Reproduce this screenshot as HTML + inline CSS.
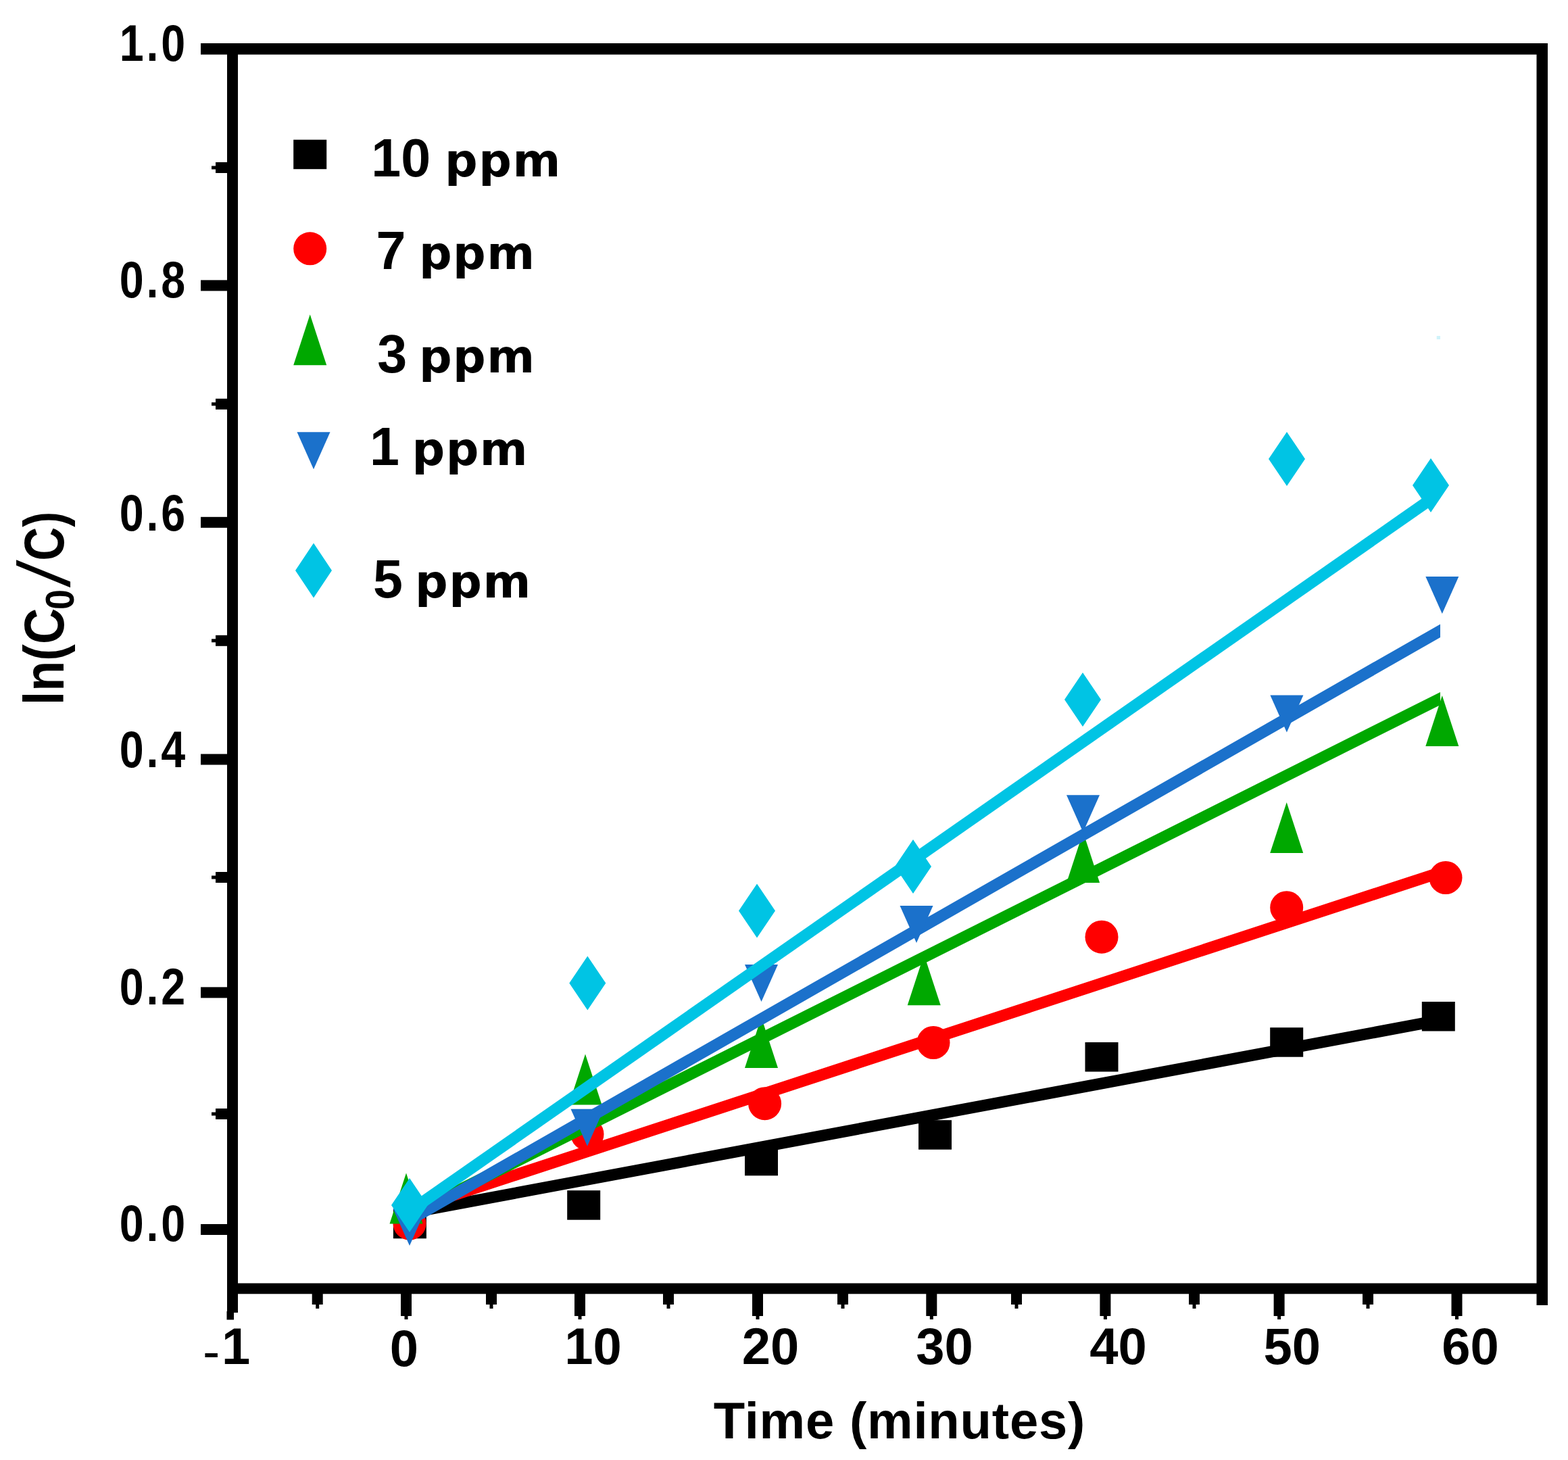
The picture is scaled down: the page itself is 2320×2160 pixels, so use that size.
<!DOCTYPE html>
<html><head><meta charset="utf-8"><style>
html,body{margin:0;padding:0;background:#fff;}
svg{display:block;}
</style></head><body>
<svg width="2320" height="2160" viewBox="0 0 2320 2160">
<rect width="2320" height="2160" fill="#fff"/>
<rect x="297.0" y="64.0" width="1993.0" height="16.7" fill="#000"/>
<rect x="336.0" y="64.0" width="16.0" height="1878.0" fill="#000"/>
<rect x="335.5" y="1940.0" width="10.5" height="12.5" fill="#000"/>
<rect x="2273.5" y="64.0" width="16.5" height="1867.0" fill="#000"/>
<rect x="336.0" y="1898.5" width="1954.0" height="15.8" fill="#000"/>
<rect x="297.0" y="1811.0" width="39.0" height="16.0" fill="#000"/>
<rect x="297.0" y="1460.4" width="39.0" height="16.0" fill="#000"/>
<rect x="297.0" y="1115.5" width="39.0" height="16.0" fill="#000"/>
<rect x="297.0" y="764.8" width="39.0" height="16.0" fill="#000"/>
<rect x="297.0" y="414.4" width="39.0" height="16.0" fill="#000"/>
<rect x="319.0" y="1640.0" width="17.0" height="16.0" fill="#000"/>
<rect x="319.0" y="1290.0" width="17.0" height="16.0" fill="#000"/>
<rect x="319.0" y="939.8" width="17.0" height="16.0" fill="#000"/>
<rect x="319.0" y="589.8" width="17.0" height="16.0" fill="#000"/>
<rect x="319.0" y="240.0" width="17.0" height="16.0" fill="#000"/>
<rect x="593.0" y="1914.0" width="16.0" height="33.0" fill="#000"/>
<rect x="850.0" y="1914.0" width="16.0" height="33.0" fill="#000"/>
<rect x="1113.0" y="1914.0" width="16.0" height="33.0" fill="#000"/>
<rect x="1370.3" y="1914.0" width="16.0" height="33.0" fill="#000"/>
<rect x="1627.4" y="1914.0" width="16.0" height="33.0" fill="#000"/>
<rect x="1884.6" y="1914.0" width="16.0" height="33.0" fill="#000"/>
<rect x="2147.5" y="1914.0" width="16.0" height="33.0" fill="#000"/>
<rect x="461.7" y="1914.0" width="16.0" height="16.0" fill="#000"/>
<rect x="467.2" y="1929.0" width="5.0" height="7.0" fill="#000"/>
<rect x="719.0" y="1914.0" width="16.0" height="16.0" fill="#000"/>
<rect x="724.5" y="1929.0" width="5.0" height="7.0" fill="#000"/>
<rect x="981.0" y="1914.0" width="16.0" height="16.0" fill="#000"/>
<rect x="986.5" y="1929.0" width="5.0" height="7.0" fill="#000"/>
<rect x="1239.0" y="1914.0" width="16.0" height="16.0" fill="#000"/>
<rect x="1244.5" y="1929.0" width="5.0" height="7.0" fill="#000"/>
<rect x="1496.0" y="1914.0" width="16.0" height="16.0" fill="#000"/>
<rect x="1501.5" y="1929.0" width="5.0" height="7.0" fill="#000"/>
<rect x="1759.0" y="1914.0" width="16.0" height="16.0" fill="#000"/>
<rect x="1764.5" y="1929.0" width="5.0" height="7.0" fill="#000"/>
<rect x="2016.0" y="1914.0" width="16.0" height="16.0" fill="#000"/>
<rect x="2021.5" y="1929.0" width="5.0" height="7.0" fill="#000"/>
<rect x="598.5" y="1946.0" width="5.0" height="6.0" fill="#000"/>
<rect x="855.5" y="1946.0" width="5.0" height="6.0" fill="#000"/>
<rect x="1118.5" y="1946.0" width="5.0" height="6.0" fill="#000"/>
<rect x="1375.8" y="1946.0" width="5.0" height="6.0" fill="#000"/>
<rect x="1632.9" y="1946.0" width="5.0" height="6.0" fill="#000"/>
<rect x="1890.1" y="1946.0" width="5.0" height="6.0" fill="#000"/>
<rect x="2153.0" y="1946.0" width="5.0" height="6.0" fill="#000"/>
<rect x="313.0" y="1645.5" width="7.0" height="5.0" fill="#000"/>
<rect x="313.0" y="1295.5" width="7.0" height="5.0" fill="#000"/>
<rect x="313.0" y="945.3" width="7.0" height="5.0" fill="#000"/>
<rect x="313.0" y="595.3" width="7.0" height="5.0" fill="#000"/>
<rect x="313.0" y="245.5" width="7.0" height="5.0" fill="#000"/>
<text transform="translate(278,90.2) scale(0.85,1)" x="0" y="0" font-size="76" text-anchor="end" letter-spacing="4.5" style="font-family:'Liberation Sans',Arial,sans-serif;font-weight:bold">1.0</text>
<text transform="translate(278,440.1) scale(0.85,1)" x="0" y="0" font-size="76" text-anchor="end" letter-spacing="4.5" style="font-family:'Liberation Sans',Arial,sans-serif;font-weight:bold">0.8</text>
<text transform="translate(278,785.2) scale(0.85,1)" x="0" y="0" font-size="76" text-anchor="end" letter-spacing="4.5" style="font-family:'Liberation Sans',Arial,sans-serif;font-weight:bold">0.6</text>
<text transform="translate(278,1135) scale(0.85,1)" x="0" y="0" font-size="76" text-anchor="end" letter-spacing="4.5" style="font-family:'Liberation Sans',Arial,sans-serif;font-weight:bold">0.4</text>
<text transform="translate(278,1486.4) scale(0.85,1)" x="0" y="0" font-size="76" text-anchor="end" letter-spacing="4.5" style="font-family:'Liberation Sans',Arial,sans-serif;font-weight:bold">0.2</text>
<text transform="translate(278,1835.8) scale(0.85,1)" x="0" y="0" font-size="76" text-anchor="end" letter-spacing="4.5" style="font-family:'Liberation Sans',Arial,sans-serif;font-weight:bold">0.0</text>
<text x="598" y="2021" font-size="76" text-anchor="middle" style="font-family:'Liberation Sans',Arial,sans-serif;font-weight:bold" >0</text>
<text x="877.4" y="2018.4" font-size="76" text-anchor="middle" style="font-family:'Liberation Sans',Arial,sans-serif;font-weight:bold" >10</text>
<text x="1140" y="2018.4" font-size="76" text-anchor="middle" style="font-family:'Liberation Sans',Arial,sans-serif;font-weight:bold" >20</text>
<text x="1397.4" y="2018.4" font-size="76" text-anchor="middle" style="font-family:'Liberation Sans',Arial,sans-serif;font-weight:bold" >30</text>
<text x="1654.4" y="2018.4" font-size="76" text-anchor="middle" style="font-family:'Liberation Sans',Arial,sans-serif;font-weight:bold" >40</text>
<text x="1911.8" y="2018.4" font-size="76" text-anchor="middle" style="font-family:'Liberation Sans',Arial,sans-serif;font-weight:bold" >50</text>
<text x="2175.4" y="2018.4" font-size="76" text-anchor="middle" style="font-family:'Liberation Sans',Arial,sans-serif;font-weight:bold" >60</text>
<text x="300" y="2018.4" font-size="76" style="font-family:'Liberation Sans',Arial,sans-serif;font-weight:bold"><tspan style="font-weight:normal" dy="7">-</tspan><tspan x="328" dy="-7">1</tspan></text>
<text x="1331" y="2127.5" font-size="76" text-anchor="middle" style="font-family:'Liberation Sans',Arial,sans-serif;font-weight:bold" letter-spacing="0.8">Time (minutes)</text>
<g transform="translate(94.4,899) rotate(-90)" style="font-family:'Liberation Sans',Arial,sans-serif;font-weight:bold" font-size="83">
<text x="-144.3" y="0" textLength="143.6" lengthAdjust="spacingAndGlyphs">ln(C</text><text x="-3" y="15" font-size="60" textLength="30" lengthAdjust="spacingAndGlyphs">0</text><text transform="translate(30,9) skewX(-7.6)" font-size="109" font-weight="normal" style="font-weight:normal">/</text><text x="69.5" y="0" textLength="72.6" lengthAdjust="spacingAndGlyphs">C)</text>
</g>
<polygon points="606,1785.7 2131,1500.6 2131,1517.9 606,1803.0" fill="#000000"/>
<rect x="581.9" y="1788.8" width="49.0" height="43.5" fill="#000000"/>
<rect x="839.2" y="1761.2" width="49.0" height="43.5" fill="#000000"/>
<rect x="1102.0" y="1695.8" width="49.0" height="43.5" fill="#000000"/>
<rect x="1359.0" y="1657.2" width="49.0" height="43.5" fill="#000000"/>
<rect x="1605.5" y="1542.0" width="49.0" height="43.5" fill="#000000"/>
<rect x="1879.2" y="1520.2" width="49.0" height="43.5" fill="#000000"/>
<rect x="2103.8" y="1482.0" width="49.0" height="43.5" fill="#000000"/>
<polygon points="606,1780.6 2131,1281.9 2131,1299.8 606,1798.5" fill="#ff0000"/>
<circle cx="606" cy="1810" r="24.5" fill="#ff0000"/>
<circle cx="869" cy="1678" r="24.5" fill="#ff0000"/>
<circle cx="1131.6" cy="1632.7" r="24.5" fill="#ff0000"/>
<circle cx="1381" cy="1542.5" r="24.5" fill="#ff0000"/>
<circle cx="1630" cy="1386.2" r="24.5" fill="#ff0000"/>
<circle cx="1903.7" cy="1342.7" r="24.5" fill="#ff0000"/>
<circle cx="2139" cy="1298.5" r="24.5" fill="#ff0000"/>
<polygon points="606,1787.9 2131,1023.9 2131,1042.9 606,1806.9" fill="#00a800"/>
<polygon points="576.5,1810.4 625.5,1810.4 601,1735.4" fill="#00a800"/>
<polygon points="841.5,1634.5 890.5,1634.5 866,1559.5" fill="#00a800"/>
<polygon points="1102.0,1580 1151.0,1580 1126.5,1505" fill="#00a800"/>
<polygon points="1342.7,1487.3 1391.7,1487.3 1367.2,1412.3" fill="#00a800"/>
<polygon points="1578.1,1306 1627.1,1306 1602.6,1231" fill="#00a800"/>
<polygon points="1879.2,1262.1 1928.2,1262.1 1903.7,1187.1" fill="#00a800"/>
<polygon points="2109.3,1104 2158.3,1104 2133.8,1029" fill="#00a800"/>
<polygon points="606,1795.1 2131,923.4 2131,943.0 606,1814.7" fill="#1b71cb"/>
<polygon points="581.5,1788 630.5,1788 606,1843" fill="#1b71cb"/>
<polygon points="844.5,1640.7 893.5,1640.7 869,1695.7" fill="#1b71cb"/>
<polygon points="1102.0,1427 1151.0,1427 1126.5,1482" fill="#1b71cb"/>
<polygon points="1331.5,1340 1380.5,1340 1356,1395" fill="#1b71cb"/>
<polygon points="1578.0,1176.3 1627.0,1176.3 1602.5,1231.3" fill="#1b71cb"/>
<polygon points="1879.4,1028.4 1928.4,1028.4 1903.9,1083.4" fill="#1b71cb"/>
<polygon points="2109.3,853 2158.3,853 2133.8,908" fill="#1b71cb"/>
<polygon points="606,1781.6 2121,725.6 2121,746.3 606,1802.3" fill="#00c4e4"/>
<polygon points="606,1743 633,1783 606,1823 579,1783" fill="#00c4e4"/>
<polygon points="869.3,1414.4 896.3,1454.4 869.3,1494.4 842.3,1454.4" fill="#00c4e4"/>
<polygon points="1120,1307.5 1147,1347.5 1120,1387.5 1093,1347.5" fill="#00c4e4"/>
<polygon points="1351,1242 1378,1282 1351,1322 1324,1282" fill="#00c4e4"/>
<polygon points="1602,995 1629,1035 1602,1075 1575,1035" fill="#00c4e4"/>
<polygon points="1904,639 1931,679 1904,719 1877,679" fill="#00c4e4"/>
<polygon points="2117,678 2144,718 2117,758 2090,718" fill="#00c4e4"/>
<rect x="2125.7" y="497.0" width="5.3" height="5.0" fill="#cff3fa"/>
<rect x="434.2" y="206.7" width="49.0" height="43.5" fill="#000000"/>
<circle cx="458.7" cy="367.8" r="24.5" fill="#ff0000"/>
<polygon points="434.2,540.3 483.2,540.3 458.7,465.29999999999995" fill="#00a800"/>
<polygon points="439.5,639.2 488.5,639.2 464,694.2" fill="#1b71cb"/>
<polygon points="464,803.5 491,844 464,884.5 437,844" fill="#00c4e4"/>
<text y="261" style="font-family:'Liberation Sans',Arial,sans-serif;font-weight:bold" font-size="79"><tspan x="549.3">10 </tspan><tspan x="658.1" style="font-family:'DejaVu Sans',sans-serif;font-weight:bold" font-size="68" letter-spacing="1.5">ppm</tspan></text>
<text y="397.7" style="font-family:'Liberation Sans',Arial,sans-serif;font-weight:bold" font-size="79"><tspan x="556.6">7 </tspan><tspan x="619.9" style="font-family:'DejaVu Sans',sans-serif;font-weight:bold" font-size="68" letter-spacing="1.5">ppm</tspan></text>
<text y="550.6" style="font-family:'Liberation Sans',Arial,sans-serif;font-weight:bold" font-size="79"><tspan x="558.2">3 </tspan><tspan x="619.9" style="font-family:'DejaVu Sans',sans-serif;font-weight:bold" font-size="68" letter-spacing="1.5">ppm</tspan></text>
<text y="688.3" style="font-family:'Liberation Sans',Arial,sans-serif;font-weight:bold" font-size="79"><tspan x="547">1 </tspan><tspan x="609.5" style="font-family:'DejaVu Sans',sans-serif;font-weight:bold" font-size="68" letter-spacing="1.5">ppm</tspan></text>
<text y="883.8" style="font-family:'Liberation Sans',Arial,sans-serif;font-weight:bold" font-size="79"><tspan x="551.9">5 </tspan><tspan x="614.1" style="font-family:'DejaVu Sans',sans-serif;font-weight:bold" font-size="68" letter-spacing="1.5">ppm</tspan></text>
</svg>
</body></html>
